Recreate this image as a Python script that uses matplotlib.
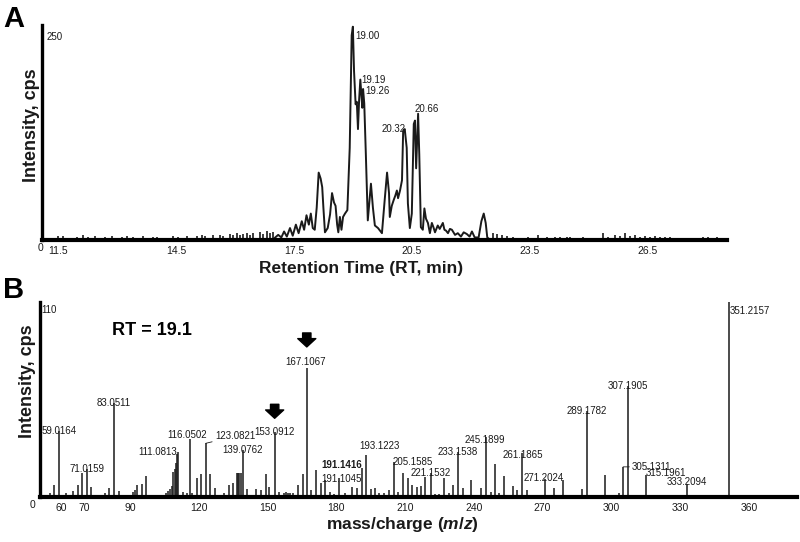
import matplotlib
matplotlib.use("Agg")
import matplotlib.pyplot as plt

# ---------------- data ----------------
# Panel A: extracted ion chromatogram (main elution window)
rt = [17.00, 17.10, 17.18, 17.25, 17.32, 17.40, 17.47, 17.55, 17.62, 17.70,
      17.76, 17.82, 17.88, 17.93, 17.98, 18.03, 18.08, 18.13, 18.18, 18.22,
      18.25, 18.29, 18.36, 18.42, 18.47, 18.52, 18.56, 18.60, 18.63, 18.67,
      18.71, 18.75, 18.80, 18.86, 18.92, 18.97, 19.00, 19.03, 19.07, 19.10,
      19.13, 19.16, 19.19, 19.22, 19.24, 19.26, 19.29, 19.33, 19.38, 19.46,
      19.51, 19.56, 19.64, 19.74, 19.81, 19.87, 19.92, 19.94, 19.99, 20.04,
      20.08, 20.12, 20.15, 20.20, 20.25, 20.28, 20.32, 20.37, 20.40, 20.45,
      20.50, 20.55, 20.58, 20.61, 20.66, 20.69, 20.73, 20.78, 20.82, 20.86,
      20.91, 20.96, 21.01, 21.05, 21.09, 21.16, 21.21, 21.29, 21.33, 21.37,
      21.42, 21.47, 21.52, 21.60, 21.67, 21.75, 21.82, 21.90, 21.97, 22.03,
      22.10, 22.20, 22.27, 22.33, 22.38, 22.42, 22.50]
intensity = [2, 6, 3, 10, 4, 14, 5, 18, 8, 22,
             12, 29, 18, 31, 14, 12, 38, 79, 72, 62,
             38, 9, 14, 30, 55, 44, 40, 18, 9, 27,
             12, 27, 31, 35, 108, 240, 250, 198, 159, 162,
             130, 165, 188, 168, 155, 177, 160, 101, 23, 66,
             38, 17, 14, 8, 47, 79, 55, 27, 40, 47,
             52, 58, 49, 58, 70, 128, 130, 108, 43, 14,
             31, 136, 140, 84, 148, 100, 15, 12, 37, 25,
             20, 8, 20, 15, 9, 17, 13, 20, 12, 11,
             8, 13, 12, 6, 8, 4, 9, 7, 4, 10,
             3, 3, 22, 31, 20, 3, 0]

# baseline noise spikes outside the elution window
noise_rt = [11.49, 11.62, 11.98, 12.13, 12.26, 12.44, 12.69, 12.87, 13.12, 13.25,
            13.40, 13.66, 13.91, 14.01, 14.42, 14.55, 14.78, 15.03, 15.16, 15.23,
            15.44, 15.62, 15.69, 15.87, 15.95, 16.05, 16.12, 16.20, 16.30, 16.38,
            16.46, 16.63, 16.71, 16.81, 16.89, 16.96,
            22.56, 22.66, 22.79, 22.92, 23.07, 23.45, 23.71, 23.94, 24.14, 24.27,
            24.45, 24.52, 24.85, 25.36, 25.49, 25.67, 25.79, 25.92, 26.05, 26.18,
            26.30, 26.43, 26.56, 26.68, 26.81, 26.94, 27.07, 27.91, 28.03, 28.26]
noise_int = [5, 5, 4, 6, 4, 5, 4, 5, 4, 5,
             4, 5, 4, 4, 5, 4, 5, 5, 6, 5,
             6, 6, 5, 7, 6, 8, 6, 7, 8, 6,
             8, 9, 7, 10, 8, 9,
             8, 7, 6, 5, 4, 3, 6, 3, 4, 3,
             4, 3, 3, 8, 4, 6, 5, 8, 5, 6,
             4, 5, 4, 5, 4, 4, 3, 4, 4, 4]

peak_rt = [19.00, 19.19, 19.26, 20.32, 20.66]
peak_text = ["19.00", "19.19", "19.26", "20.32", "20.66"]

rt_ticks = [11.5, 14.5, 17.5, 20.5, 23.5, 26.5]
rt_max_cps = 250

# Panel B: MS spectrum at RT = 19.1
mz = [55.1, 57.0, 59.0164, 62.1, 65.0, 67.1, 69.0, 71.0159, 73.0, 79.1,
      81.0, 83.0511, 85.2, 91.4, 92.0, 92.9, 95.1, 97.0, 100.8, 105.5,
      106.6, 107.3, 108.1, 108.8, 109.5, 110.0, 110.5, 111.0813, 112.9, 115.0,
      116.0502, 117.0, 119.0, 120.9, 123.0821, 124.9, 127.0, 131.0, 133.0, 134.8,
      136.5, 137.0, 137.5, 138.2, 139.0762, 141.1, 144.9, 147.1, 149.1, 150.8,
      153.0912, 155.2, 157.0, 158.0, 159.0, 160.0, 161.0, 163.4, 165.3, 167.1067,
      168.9, 171.1, 173.1, 175.0, 177.2, 178.9, 181.1, 183.7, 186.9, 189.1,
      191.1416, 193.1223, 195.2, 197.0, 198.7, 200.9, 203.0, 205.1585, 207.0, 208.9,
      211.1, 213.1, 215.1, 217.0, 218.9, 221.1532, 223.0, 225.0, 227.0, 229.0,
      231.0, 233.1538, 235.1, 238.9, 243.0, 245.1899, 247.3, 249.1, 251.0, 253.1,
      257.1, 259.0, 261.1865, 263.0, 271.2024, 275.0, 279.0, 287.0, 289.1782, 297.1,
      303.2, 305.1311, 307.1905, 315.1961, 333.2094, 351.2157]
ms_int = [2.0, 7.0, 37.5, 2.0, 3.4, 7.0, 13.5, 16.0, 5.6, 2.5,
          5.0, 52.8, 3.5, 3.0, 4.0, 7.0, 7.5, 12.0, 1.2, 2.0,
          3.5, 4.5, 6.0, 14.0, 16.0, 19.0, 24.0, 25.5, 3.0, 2.0,
          33.0, 2.0, 10.5, 13.0, 30.3, 13.0, 5.0, 2.0, 7.0, 8.0,
          13.5, 13.5, 13.5, 13.5, 26.5, 4.5, 4.5, 4.0, 12.8, 5.5,
          36.5, 3.0, 2.0, 3.0, 2.5, 2.0, 2.0, 6.8, 12.8, 72.8,
          4.0, 15.0, 7.7, 9.5, 3.0, 1.9, 10.7, 2.5, 5.6, 5.0,
          16.5, 23.5, 4.5, 5.0, 2.0, 2.5, 4.0, 20.0, 3.0, 13.7,
          10.7, 6.8, 5.6, 6.2, 11.3, 13.7, 1.5, 1.5, 10.7, 2.0,
          7.0, 25.5, 5.0, 9.4, 5.0, 34.0, 3.0, 18.8, 2.5, 12.0,
          6.0, 4.0, 25.0, 3.8, 10.0, 5.0, 9.4, 4.5, 48.7, 12.4,
          2.0, 17.0, 62.6, 12.4, 7.2, 110.0]

label_mz = [59.0164, 71.0159, 83.0511, 111.0813, 116.0502, 123.0821, 139.0762,
            153.0912, 167.1067, 191.1416, 191.1416, 193.1223, 205.1585, 221.1532,
            233.1538, 245.1899, 261.1865, 271.2024, 289.1782, 305.1311, 307.1905,
            315.1961, 333.2094, 351.2157]
label_text = ["59.0164", "71.0159", "83.0511", "111.0813", "116.0502", "123.0821",
              "139.0762", "153.0912", "167.1067", "191.1416", "191.1045", "193.1223",
              "205.1585", "221.1532", "233.1538", "245.1899", "261.1865", "271.2024",
              "289.1782", "305.1311", "307.1905", "315.1961", "333.2094", "351.2157"]
arrow_mz = [153.0912, 167.1067]

mz_ticks = [60, 70, 90, 120, 150, 180, 210, 240, 270, 300, 330, 360]
ms_max_cps = 110

# ---------------- styling ----------------
W, H = 800, 542
SANS = ["Liberation Sans", "DejaVu Sans"]
plt.rcParams["font.family"] = SANS
plt.rcParams["mathtext.fontset"] = "custom"
plt.rcParams["mathtext.it"] = "Liberation Sans:italic:bold"
plt.rcParams["mathtext.rm"] = "Liberation Sans:bold"
INK = "#1a1a1a"
LABEL_FS = 7.0


def fx(px):
    return px / W


def fy(py):
    return 1 - py / H


# label placement: (ha, dx_px, dy_px, bold, leader)
ms_label_style = {
    "111.0813": ("right", -1, 0, False, False),
    "116.0502": ("center", -3, 4, False, False),
    "123.0821": ("left", 9, 7, False, True),
    "167.1067": ("center", -1, 6, False, False),
    "191.1416": ("right", 0, 3, True, False),
    "191.1045": ("right", 0, -11, False, False),
    "193.1223": ("left", -7, 9, False, False),
    "205.1585": ("left", -1, 0, False, False),
    "245.1899": ("center", -1, -3, False, False),
    "261.1865": ("center", 0, -2, False, False),
    "271.2024": ("center", -2, 1, False, False),
    "305.1311": ("left", 9, 0, False, True),
    "315.1961": ("left", 0, 2, False, False),
    "333.2094": ("center", -1, 2, False, False),
    "351.2157": ("left", 1, -9, False, False),
}
rt_label_style = {
    "19.00": ("left", 2, -9),
    "19.19": ("left", 1, 0),
    "19.26": ("left", 2, -2),
    "20.32": ("right", 1, 0),
    "20.66": ("left", -4, 5),
}
# block arrows above marked fragments: (tip, tail) in px above the bar top
arrow_px = {153.0912: (14, 28), 167.1067: (21, 35)}

fig = plt.figure(figsize=(W / 100, H / 100), dpi=100)

# ---------- panel A ----------
axA = fig.add_axes([fx(42), fy(240), fx(685), 215 / H])
axA.vlines(noise_rt, 0, noise_int, color=INK, lw=1.2)
axA.plot(rt, intensity, color=INK, lw=1.4)
for t, txt in zip(peak_rt, peak_text):
    ha, dx, dy = rt_label_style[txt]
    yv = intensity[rt.index(t)]
    axA.annotate(txt, (t, yv), xytext=(dx * 0.72, dy * 0.72),
                 textcoords="offset points", ha=ha, va="center",
                 fontsize=LABEL_FS, color=INK)
axA.set_xlim(11.09, 28.52)
axA.set_ylim(0, rt_max_cps + 2)
axA.set_xticks(rt_ticks)
axA.set_xticklabels([f"{t:.1f}" for t in rt_ticks])
axA.set_yticks([])

# ---------- panel B ----------
axB = fig.add_axes([fx(40), fy(497), fx(757), 195 / H])
axB.vlines(mz, 0, ms_int, color=INK, lw=1.1)
for m, txt in zip(label_mz, label_text):
    ha, dx, dy, bold, leader = ms_label_style.get(txt, ("center", 0, 0, False, False))
    yv = ms_int[mz.index(m)]
    kw = {}
    if leader:
        kw["arrowprops"] = dict(arrowstyle="-", lw=0.6, color=INK,
                                shrinkA=0, shrinkB=0)
    axB.annotate(txt, (m, yv), xytext=(dx * 0.72, dy * 0.72),
                 textcoords="offset points", ha=ha, va="center",
                 fontsize=LABEL_FS, color=INK,
                 fontweight="bold" if bold else "normal", **kw)
axB.set_xlim(50.7, 381)
axB.set_ylim(0, ms_max_cps)
axB.set_xticks(mz_ticks)
axB.set_yticks([])

for m in arrow_mz:
    yv = ms_int[mz.index(m)]
    tip, tail = arrow_px[m]
    axB.annotate("", xy=(m, yv), xytext=(0, tail * 0.72),
                 textcoords="offset points",
                 arrowprops=dict(arrowstyle="simple,head_length=0.6,head_width=1.3,tail_width=0.6",
                                 fc="black", ec="black", mutation_scale=10,
                                 shrinkA=0, shrinkB=tip * 0.72))

for ax in (axA, axB):
    for s in ("top", "right"):
        ax.spines[s].set_visible(False)
    ax.spines["left"].set_linewidth(2.4)
    ax.spines["bottom"].set_linewidth(3.0)
    ax.spines["left"].set_color("black")
    ax.spines["bottom"].set_color("black")
    ax.tick_params(axis="x", length=0, pad=4, labelsize=7.5, labelcolor=INK)
    ax.patch.set_visible(False)

# axis titles and panel letters
fig.text(fx(31), fy(125), "Intensity, cps", rotation=90, ha="center", va="center",
         fontsize=13, fontweight="bold", color=INK)
fig.text(fx(27), fy(381), "Intensity, cps", rotation=90, ha="center", va="center",
         fontsize=13, fontweight="bold", color=INK)
fig.text(fx(361), fy(268), "Retention Time (RT, min)", ha="center", va="center",
         fontsize=12.5, fontweight="bold", color=INK)
fig.text(fx(402), fy(525), r"mass/charge ($\mathit{m/z}$)", ha="center", va="center",
         fontsize=12.5, fontweight="bold", color=INK)
fig.text(fx(3), fy(27), "A", fontsize=21, fontweight="bold", color="black")
fig.text(fx(3), fy(298), "B", fontsize=21, fontweight="bold", color="black")
fig.text(fx(112), fy(335), "RT = 19.1", fontsize=13, fontweight="bold", color="black")

fig.text(fx(40), fy(248), "0", ha="center", va="center", fontsize=7.5, color=INK)
fig.text(fx(33), fy(505), "0", ha="center", va="center", fontsize=7.5, color=INK)
fig.text(fx(47), fy(37), str(rt_max_cps), ha="left", va="center", fontsize=7, color=INK)
fig.text(fx(41), fy(310), str(ms_max_cps), ha="left", va="center", fontsize=7, color=INK)

fig.savefig("out.png", dpi=100)
